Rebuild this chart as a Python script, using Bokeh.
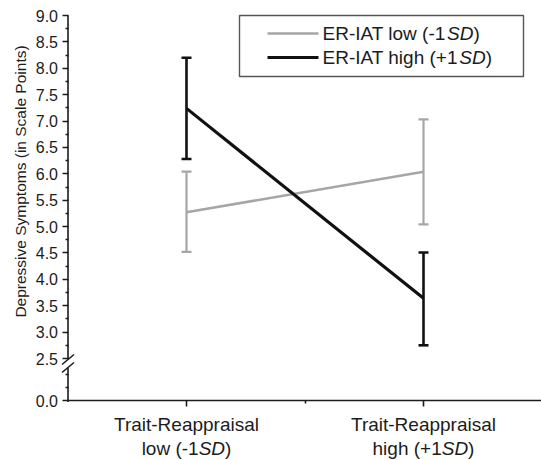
import math
from bokeh.plotting import figure
from bokeh.models import (ColumnDataSource, Whisker, TeeHead, FixedTicker, Label, Range1d)
from bokeh.embed import file_html
from bokeh.resources import INLINE

# ---------------- data ----------------
x_pos = [1, 2]
line1 = ["Trait-Reappraisal", "Trait-Reappraisal"]
line2 = ["low (-1", "high (+1"]          # followed by italic "SD" and ")"
series_names = ["ER-IAT low (-1", "ER-IAT high (+1"]

low_mean = [5.27, 6.04]      # ER-IAT low (-1SD)
low_lower = [4.52, 5.04]
low_upper = [6.04, 7.03]

high_mean = [7.24, 3.64]     # ER-IAT high (+1SD)
high_lower = [6.28, 2.75]
high_upper = [8.20, 4.51]

y_tick_values = [2.5, 3.0, 3.5, 4.0, 4.5, 5.0, 5.5, 6.0, 6.5, 7.0, 7.5, 8.0, 8.5, 9.0]
zero_label = "0.0"
y_title = "Depressive Symptoms (in Scale Points)"

# ---------------- layout constants ----------------
W, H = 541, 460
XPX = 237.0                 # pixels per category unit
YPX = 52.77                 # pixels per scale point
CAT1_PX = 186.0             # pixel column of category 1
Y9_PX = 15.0                # pixel row of 9.0
ZERO_PX = 400.0             # pixel row of 0.0 (below the axis break)
AXIS_X = 0.5                # data x of the y axis

X_START = 1 - CAT1_PX / XPX
X_END = X_START + W / XPX
Y_TOP = 9.0 + Y9_PX / YPX
Y_BOT = Y_TOP - H / YPX
ZERO_POS = Y_TOP - ZERO_PX / YPX   # display position of 0.0


def dx(px):
    return X_START + px / XPX


def dy(py):
    return Y_TOP - py / YPX


FONT = "Liberation Sans"
TXT = "#1c1c1c"
GRAY = "#a6a6a6"
BLACK = "#111111"

# Arial/Liberation Sans advance widths (per 1000 em)
AW = {c: 556 for c in "0123456789"}
AW.update({"E": 667, "R": 722, "-": 333, "I": 278, "A": 667, "T": 611, " ": 278,
           "l": 222, "o": 556, "w": 722, "(": 333, ")": 333, "S": 667, "D": 722,
           "h": 556, "i": 222, "g": 556, "+": 584})


def tw(s, size):
    return sum(AW.get(c, 556) for c in s) * size / 1000.0


p = figure(width=W, height=H, output_backend="svg", toolbar_location=None,
           x_range=Range1d(X_START, X_END), y_range=Range1d(Y_BOT, Y_TOP),
           min_border=0, min_border_left=0, min_border_right=0, min_border_top=0,
           min_border_bottom=0, background_fill_color="white",
           border_fill_color="white")
p.outline_line_color = None
p.grid.visible = False

XFS = 19

# ---- x axis ----
xa = p.xaxis[0]
xa.fixed_location = ZERO_POS
xa.bounds = (AXIS_X, X_END)
xa.ticker = FixedTicker(ticks=x_pos, minor_ticks=[1.5])
xa.major_label_overrides = {x: t for x, t in zip(x_pos, line1)}
xa.major_label_text_font = FONT
xa.major_label_text_font_size = f"{XFS}px"
xa.major_label_text_color = TXT
xa.major_label_standoff = 7
xa.axis_line_color = TXT
xa.axis_line_width = 1.6
xa.major_tick_line_color = TXT
xa.major_tick_line_width = 1.6
xa.major_tick_out = 6
xa.major_tick_in = 0
xa.minor_tick_line_color = TXT
xa.minor_tick_line_width = 1.6
xa.minor_tick_out = 3
xa.minor_tick_in = 0

# ---- y axis (broken) ----
ya = p.yaxis[0]
ya.fixed_location = AXIS_X
ya.bounds = (ZERO_POS, 9.0)
major = [ZERO_POS] + y_tick_values
minor = [ZERO_POS + 0.25, ZERO_POS + 0.5] + [v + 0.25 for v in y_tick_values[:-1]]
ya.ticker = FixedTicker(ticks=major, minor_ticks=minor)
overrides = {v: f"{v:.1f}" for v in y_tick_values}
overrides[ZERO_POS] = zero_label
ya.major_label_overrides = overrides
ya.major_label_text_font = FONT
ya.major_label_text_font_size = "16px"
ya.major_label_text_color = TXT
ya.major_label_standoff = 4
ya.axis_line_color = None
ya.major_tick_line_color = TXT
ya.major_tick_line_width = 1.6
ya.major_tick_out = 6
ya.major_tick_in = 0
ya.minor_tick_line_color = TXT
ya.minor_tick_line_width = 1.6
ya.minor_tick_out = 3
ya.minor_tick_in = 0

# axis line pieces with the break gap, and the break marks
gap_hi = dy(359)
gap_lo = dy(367)
p.segment(x0=[AXIS_X, AXIS_X], y0=[ZERO_POS - 0.03, gap_hi], x1=[AXIS_X, AXIS_X],
          y1=[gap_lo, 9.0], line_color=TXT, line_width=1.6)
ax_px = (AXIS_X - X_START) * XPX
p.segment(x0=[dx(ax_px - 6)] * 2, y0=[dy(364), dy(372)],
          x1=[dx(ax_px + 6)] * 2, y1=[dy(354), dy(362)],
          line_color=TXT, line_width=1.6)

# ---- data: lines and error bars ----
src_low = ColumnDataSource(dict(x=x_pos, m=low_mean, lo=low_lower, up=low_upper))
src_high = ColumnDataSource(dict(x=x_pos, m=high_mean, lo=high_lower, up=high_upper))

p.line("x", "m", source=src_low, line_color=GRAY, line_width=2.6)
p.add_layout(Whisker(source=src_low, base="x", upper="up", lower="lo", dimension="height",
                     line_color=GRAY, line_width=2.2,
                     upper_head=TeeHead(size=10, line_color=GRAY, line_width=2.2),
                     lower_head=TeeHead(size=10, line_color=GRAY, line_width=2.2)))
p.line("x", "m", source=src_high, line_color=BLACK, line_width=3.2)
p.add_layout(Whisker(source=src_high, base="x", upper="up", lower="lo", dimension="height",
                     line_color=BLACK, line_width=2.6,
                     upper_head=TeeHead(size=10, line_color=BLACK, line_width=2.6),
                     lower_head=TeeHead(size=10, line_color=BLACK, line_width=2.6)))

# ---- legend (manual, for italic SD) ----
p.quad(left=[dx(239)], right=[dx(523)], top=[dy(15)], bottom=[dy(76)],
       fill_color="white", line_color="#555555", line_width=1.4)
LFS = 19
for txt, col, lw, ry in [(series_names[0], GRAY, 2.6, 33), (series_names[1], BLACK, 3.2, 57)]:
    p.line([dx(267), dx(318)], [dy(ry), dy(ry)], line_color=col, line_width=lw)
    off = 0.0
    for piece, style in [(txt, "normal"), ("SD", "italic"), (")", "normal")]:
        p.add_layout(Label(x=dx(322), y=dy(ry), x_offset=off, text=piece, text_font=FONT,
                           text_font_size=f"{LFS}px", text_font_style=style,
                           text_color=TXT, text_align="left", text_baseline="middle"))
        off += tw(piece, LFS)

# ---- second line of the x category labels (italic SD) ----
for xc, l2 in zip(x_pos, line2):
    pieces = [(l2, "normal"), ("SD", "italic"), (")", "normal")]
    total = sum(tw(s, XFS) for s, _ in pieces)
    off = -total / 2
    for s, st in pieces:
        p.add_layout(Label(x=xc, y=dy(448), x_offset=off, text=s, text_font=FONT,
                           text_font_size=f"{XFS}px", text_font_style=st, text_color=TXT,
                           text_align="left", text_baseline="middle"))
        off += tw(s, XFS)

# ---- y axis title ----
p.add_layout(Label(x=dx(20), y=dy(181), text=y_title,
                   angle=math.pi / 2, text_font=FONT, text_font_size="15.5px",
                   text_color=TXT, text_align="center", text_baseline="middle"))

open("out.html", "w").write(file_html(p, INLINE))
